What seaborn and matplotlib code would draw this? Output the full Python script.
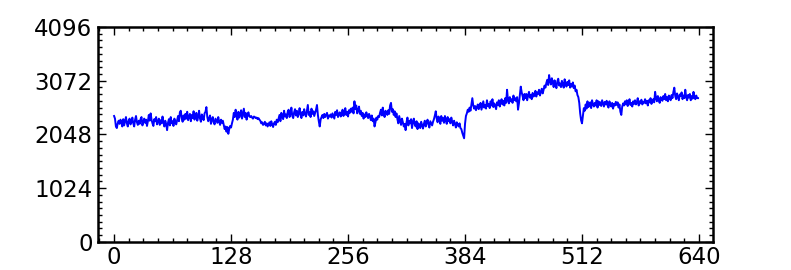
import numpy as np
import pandas as pd
import matplotlib
matplotlib.use("Agg")
import matplotlib.pyplot as plt
import seaborn as sns
from matplotlib.ticker import MultipleLocator

# one value per sample
signal = [
    2400, 2350, 2200, 2170, 2260, 2310, 2250, 2330, 2280, 2200,
    2340, 2220, 2300, 2380, 2260, 2200, 2310, 2350, 2240, 2290,
    2370, 2260, 2200, 2330, 2400, 2280, 2230, 2310, 2250, 2340,
    2380, 2220, 2290, 2350, 2270, 2330, 2210, 2300, 2420, 2310,
    2450, 2330, 2260, 2210, 2340, 2300, 2380, 2240, 2290, 2350,
    2230, 2320, 2260, 2390, 2280, 2200, 2310, 2250, 2130, 2270,
    2340, 2220, 2380, 2260, 2300, 2210, 2350, 2280, 2240, 2320,
    2400, 2300, 2470, 2500, 2360, 2290, 2410, 2330, 2440, 2350,
    2480, 2320, 2390, 2440, 2300, 2420, 2360, 2490, 2330, 2400,
    2460, 2310, 2380, 2500, 2350, 2290, 2430, 2370, 2320, 2450,
    2480, 2570, 2380, 2300, 2360, 2410, 2250, 2330, 2380, 2280,
    2240, 2350, 2310, 2270, 2380, 2290, 2230, 2330, 2270, 2310,
    2230, 2150, 2200, 2100, 2190, 2060, 2150, 2210, 2180, 2260,
    2330, 2460, 2380, 2520, 2400, 2330, 2480, 2370, 2430, 2510,
    2350, 2440, 2540, 2380, 2460, 2330, 2420, 2470, 2390, 2380,
    2400, 2370, 2350, 2390, 2380, 2360, 2370, 2340, 2360, 2330,
    2310, 2260, 2280, 2230, 2250, 2290, 2220, 2260, 2200, 2240,
    2280, 2210, 2300, 2240, 2190, 2260, 2290, 2230, 2330, 2280,
    2350, 2420, 2300, 2460, 2380, 2340, 2500, 2390, 2430, 2360,
    2480, 2520, 2380, 2440, 2560, 2400, 2360, 2470, 2530, 2410,
    2500, 2380, 2450, 2550, 2420, 2360, 2480, 2410, 2530, 2440,
    2390, 2500, 2610, 2420, 2470, 2380, 2540, 2440, 2490, 2400,
    2460, 2520, 2610, 2420, 2300, 2200, 2330, 2380, 2420, 2360,
    2440, 2380, 2420, 2460, 2350, 2410, 2390, 2430, 2370, 2450,
    2400, 2350, 2480, 2420, 2510, 2380, 2440, 2470, 2390, 2430,
    2520, 2400, 2470, 2550, 2420, 2480, 2390, 2510, 2460, 2540,
    2480, 2560, 2450, 2680, 2530, 2600, 2450, 2510, 2580, 2440,
    2500, 2400, 2460, 2350, 2430, 2380, 2470, 2410, 2360, 2440,
    2390, 2320, 2410, 2300, 2350, 2200, 2280, 2370, 2330, 2400,
    2380, 2460, 2520, 2410, 2560, 2440, 2380, 2500, 2470, 2420,
    2510, 2440, 2600, 2650, 2480, 2530, 2420, 2490, 2380, 2450,
    2340, 2260, 2400, 2310, 2230, 2350, 2280, 2200, 2250, 2130,
    2280, 2370, 2220, 2310, 2260, 2340, 2170, 2290, 2350, 2240,
    2200, 2300, 2150, 2260, 2220, 2170, 2290, 2230, 2160, 2250,
    2310, 2200, 2270, 2330, 2240, 2180, 2300, 2260, 2220, 2290,
    2340, 2410, 2490, 2350, 2280, 2390, 2330, 2250, 2400, 2310,
    2360, 2270, 2400, 2320, 2250, 2380, 2300, 2340, 2260, 2370,
    2290, 2220, 2310, 2250, 2180, 2280, 2230, 2200, 2260, 2170,
    2150, 2080, 2030, 1975, 2250, 2400, 2450, 2520, 2480, 2560,
    2500, 2620, 2740, 2600, 2540, 2590, 2510, 2570, 2620, 2530,
    2580, 2650, 2520, 2600, 2680, 2560, 2610, 2540, 2700, 2590,
    2630, 2550, 2680, 2600, 2720, 2570, 2640, 2590, 2530, 2660,
    2610, 2700, 2580, 2660, 2720, 2620, 2690, 2600, 2740, 2650,
    2900, 2700, 2640, 2760, 2680, 2720, 2650, 2790, 2700, 2740,
    2680, 2760, 2520, 2640, 2800, 2960, 2850, 2780, 2700, 2820,
    2740, 2820, 2700, 2790, 2860, 2750, 2800, 2720, 2840, 2770,
    2800, 2880, 2770, 2850, 2820, 2900, 2790, 2860, 2920, 2830,
    2900, 2980, 2940, 3030, 3090, 2990, 3180, 3060, 3000, 3120,
    3040, 2950, 3080, 3000, 2930, 3060, 3110, 2980, 3020, 2950,
    3070, 3000, 2940, 3100, 3020, 2960, 3050, 2990, 3080, 2940,
    3010, 2960, 3040, 2930, 2980, 2870, 2900, 2800, 2760, 2650,
    2450, 2320, 2260, 2400, 2550, 2500, 2620, 2540, 2680, 2570,
    2600, 2660, 2550, 2700, 2620, 2580, 2650, 2600, 2700, 2560,
    2680, 2610, 2660, 2590, 2700, 2640, 2580, 2670, 2620, 2690,
    2600, 2560, 2680, 2620, 2580, 2650, 2540, 2630, 2600, 2670,
    2610, 2660, 2560, 2620, 2480, 2420, 2580, 2640, 2600, 2680,
    2620, 2700, 2590, 2660, 2720, 2610, 2650, 2580, 2680, 2630,
    2700, 2620, 2660, 2740, 2600, 2680, 2640, 2710, 2620, 2670,
    2650, 2720, 2640, 2690, 2600, 2700, 2660, 2740, 2630, 2690,
    2720, 2660, 2860, 2740, 2680, 2780, 2700, 2650, 2760, 2710,
    2690, 2780, 2720, 2820, 2700, 2760, 2680, 2790, 2740, 2700,
    2800, 2740, 2860, 2940, 2780, 2720, 2830, 2760, 2700, 2810,
    2780, 2850, 2720, 2790, 2740, 2900, 2760, 2700, 2800, 2750,
    2820, 2700, 2780, 2730, 2860, 2750, 2720, 2790, 2740, 2740,
]
x_ticks = [0, 128, 256, 384, 512, 640]
y_ticks = [0, 1024, 2048, 3072, 4096]

df = pd.DataFrame({"sample": np.arange(len(signal)), "value": signal})

fig = plt.figure(figsize=(7.91, 2.70), dpi=100)
ax = fig.add_axes([0.124, 0.104, 0.777, 0.796])
sns.lineplot(data=df, x="sample", y="value", ax=ax, color="#0000ff", linewidth=1.4)

ax.set_xlim(-17.5, 655)
ax.set_ylim(0, 4096)
ax.set_xticks(x_ticks)
ax.set_yticks(y_ticks)
ax.xaxis.set_minor_locator(MultipleLocator(16))
ax.yaxis.set_minor_locator(MultipleLocator(128))
ax.tick_params(which="both", direction="in", top=True, right=True, colors="black")
ax.tick_params(which="major", length=6, width=1.0, labelsize=16.5, pad=4)
ax.tick_params(axis="x", which="major", pad=3)
ax.tick_params(which="minor", length=3, width=1.0)
for s in ax.spines.values():
    s.set_linewidth(1.8)
ax.set_xlabel("")
ax.set_ylabel("")
fig.savefig("out.png", dpi=100)
